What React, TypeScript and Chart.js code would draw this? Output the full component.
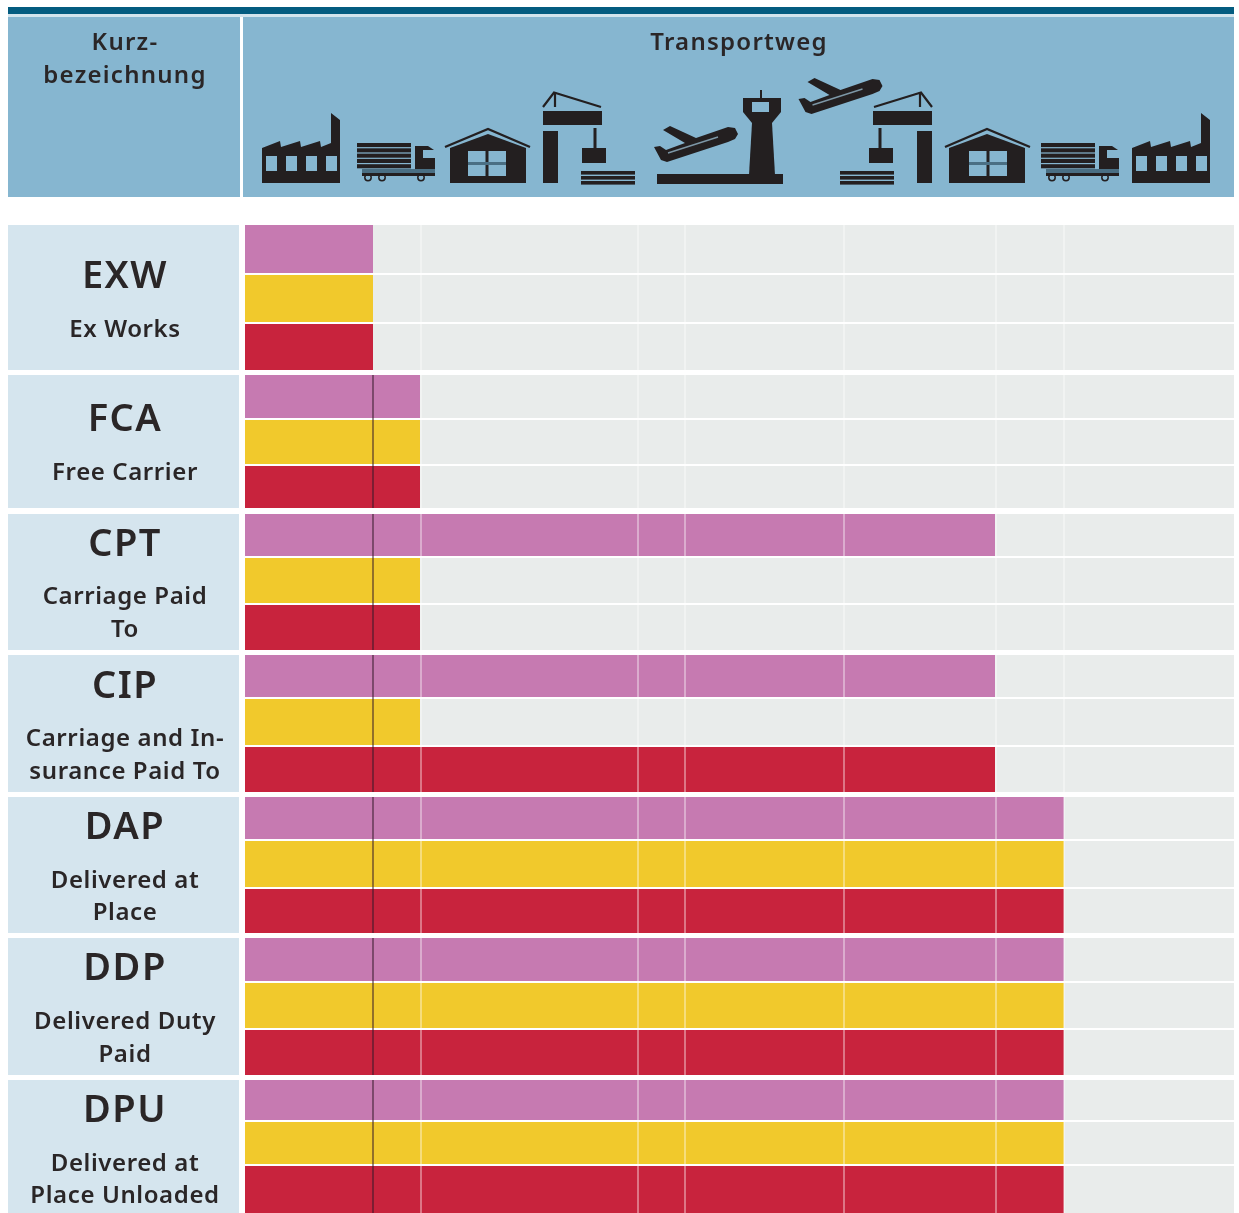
import React, { useEffect, useRef } from "react";
import { Chart, registerables } from "chart.js";

Chart.register(...registerables);

// ---------- data ----------
const terms = ["EXW", "FCA", "CPT", "CIP", "DAP", "DDP", "DPU"];
const termNames = [
  ["Ex Works"],
  ["Free Carrier"],
  ["Carriage Paid", "To"],
  ["Carriage and In-", "surance Paid To"],
  ["Delivered at", "Place"],
  ["Delivered Duty", "Paid"],
  ["Delivered at", "Place Unloaded"],
];
// how far along the transport route each band of each term reaches
const purpleReach = [128, 175, 750, 750, 819, 819, 819];
const yellowReach = [128, 175, 175, 175, 819, 819, 819];
const redReach = [128, 175, 175, 750, 819, 819, 819];
// stages of the route (where the separators sit)
const routeStages = [128, 176, 393, 440, 599, 751, 819];
const routeLength = 989;

// ---------- layout (row edges in y-axis units, and styles) ----------
const rowEdges = [
  [0, 48, 50, 97, 99, 145],
  [150, 193, 195, 239, 241, 283],
  [289, 331, 333, 378, 380, 425],
  [430, 472, 474, 520, 522, 567],
  [572, 614, 616, 662, 664, 708],
  [713, 756, 758, 803, 805, 850],
  [855, 895, 897, 939, 941, 988],
];
const bandColors = ["#C67AB1", "#F1C92C", "#C8233D"];
const INK = "#2a2627";
const ICON = "#231F20";
const HEAD = "#86B6D0";
const FONT = '"Noto Sans"';
const nameBaselines = [
  [288, [337]],
  [431, [480]],
  [556, [604, 637]],
  [698, [746, 779]],
  [839, [888, 920]],
  [980, [1029, 1062]],
  [1122, [1171, 1203]],
] as [number, number[]][];

const bandCenter = (term: number, band: number) =>
  (rowEdges[term][band * 2] + rowEdges[term][band * 2 + 1]) / 2;

const toPoints = (reach: number[], band: number) =>
  reach.map((x, term) => ({ x, y: bandCenter(term, band) }));

// ---------- icons ----------
function poly(ctx: CanvasRenderingContext2D, pts: number[][], fill = ICON) {
  ctx.fillStyle = fill;
  ctx.beginPath();
  pts.forEach(([x, y], i) => (i ? ctx.lineTo(x, y) : ctx.moveTo(x, y)));
  ctx.closePath();
  ctx.fill();
}
function line(ctx: CanvasRenderingContext2D, pts: number[][], w: number, color = ICON) {
  ctx.strokeStyle = color;
  ctx.lineWidth = w;
  ctx.beginPath();
  pts.forEach(([x, y], i) => (i ? ctx.lineTo(x, y) : ctx.moveTo(x, y)));
  ctx.stroke();
}
function rect(ctx: CanvasRenderingContext2D, x0: number, y0: number, x1: number, y1: number, fill = ICON) {
  ctx.fillStyle = fill;
  ctx.fillRect(x0, y0, x1 - x0, y1 - y0);
}
function factory(ctx: CanvasRenderingContext2D) {
  poly(ctx, [[262, 148], [280, 141], [281, 147], [300, 141], [301, 147], [320, 141], [321, 147], [331, 143], [331, 113], [340, 120], [340, 183], [262, 183]]);
  [266, 286, 306, 326].forEach((x) => rect(ctx, x, 156, x + 11, 171, HEAD));
}
function truck(ctx: CanvasRenderingContext2D) {
  [143, 148.3, 153.6, 158.9, 164.2].forEach((y) => rect(ctx, 357, y, 411, y + 4.1));
  poly(ctx, [[415, 146], [428, 146], [434, 150], [423, 150], [423, 158], [435, 158], [435, 169], [415, 169]]);
  rect(ctx, 362, 169, 435, 173, "#4A6F84");
  rect(ctx, 362, 173, 435, 176);
  [368, 382, 421].forEach((x) => {
    ctx.strokeStyle = ICON;
    ctx.lineWidth = 1.5;
    ctx.beginPath();
    ctx.arc(x, 177.5, 3.2, 0, Math.PI * 2);
    ctx.stroke();
  });
}
function warehouse(ctx: CanvasRenderingContext2D) {
  line(ctx, [[445, 147], [488, 129], [530, 147]], 2.4);
  poly(ctx, [[450, 148], [488, 134], [526, 148], [526, 183], [450, 183]]);
  rect(ctx, 468, 151, 506, 176, HEAD);
  rect(ctx, 485.5, 151, 488.5, 176);
  rect(ctx, 468, 162, 506, 165, "#4A6F84");
}
function crane(ctx: CanvasRenderingContext2D) {
  rect(ctx, 543, 131, 558, 183);
  rect(ctx, 543, 111, 602, 125);
  line(ctx, [[543, 107], [554, 92.5], [601, 107]], 2.2);
  line(ctx, [[555, 92], [555, 107]], 2.2);
  line(ctx, [[595, 128], [595, 148]], 3);
  rect(ctx, 582, 148, 606, 163);
  [171, 176, 181].forEach((y) => rect(ctx, 581, y, 635, y + 3.6));
}
function plane(ctx: CanvasRenderingContext2D) {
  poly(ctx, [[654, 147], [660, 146], [666, 150], [685, 143], [663, 130], [670, 126], [696, 138], [728, 127], [735, 128], [738, 134], [735, 139], [728, 142], [667, 162], [661, 160]]);
  line(ctx, [[668, 153], [718, 137]], 1.4, "#7D97A6");
}
function tower(ctx: CanvasRenderingContext2D) {
  rect(ctx, 657, 174, 783, 184);
  poly(ctx, [[749, 175], [752, 123], [772, 123], [775, 175]]);
  poly(ctx, [[743, 98], [781, 98], [781, 112], [772, 123], [752, 123], [743, 112]]);
  rect(ctx, 752, 102, 769, 112, HEAD);
  line(ctx, [[761, 90], [761, 98]], 2);
}
function drawIcons(ctx: CanvasRenderingContext2D) {
  const at = (dx: number, dy: number, draw: (c: CanvasRenderingContext2D) => void) => {
    ctx.save();
    ctx.translate(dx, dy);
    draw(ctx);
    ctx.restore();
  };
  factory(ctx);
  truck(ctx);
  warehouse(ctx);
  crane(ctx);
  plane(ctx);
  tower(ctx);
  at(144.5, -48, plane);
  ctx.save();
  ctx.translate(1475, 0);
  ctx.scale(-1, 1);
  crane(ctx);
  warehouse(ctx);
  ctx.restore();
  at(684, 0, truck);
  at(870, 0, factory);
}

// ---------- plugin drawing the table around the bars ----------
const tablePlugin = {
  id: "incotermTable",
  beforeDraw(chart: any) {
    const ctx: any = chart.ctx;
    const y = chart.scales.y;
    ctx.save();
    rect(ctx, 8, 7, 1234, 14, "#045C80");
    rect(ctx, 8, 14, 1234, 17, "#D3E4ED");
    rect(ctx, 8, 17, 240, 197, HEAD);
    rect(ctx, 243, 17, 1234, 197, HEAD);
    rowEdges.forEach((edges) => {
      const top = y.getPixelForValue(edges[0]);
      const bottom = y.getPixelForValue(edges[5]);
      rect(ctx, 8, top, 239, bottom, "#D5E5EE");
    });
    ctx.fillStyle = INK;
    ctx.textAlign = "center";
    ctx.textBaseline = "alphabetic";
    ctx.font = `600 24px ${FONT}`;
    ctx.letterSpacing = "1.25px";
    ctx.fillText("Kurz-", 125, 50);
    ctx.fillText("bezeichnung", 125, 83);
    ctx.fillText("Transportweg", 739, 50);
    terms.forEach((term, i) => {
      const [titleY, nameYs] = nameBaselines[i];
      ctx.font = `600 38px ${FONT}`;
      ctx.letterSpacing = "1.5px";
      ctx.fillText(term, 125, titleY);
      ctx.font = `600 24px ${FONT}`;
      ctx.letterSpacing = "0.6px";
      termNames[i].forEach((text, k) => ctx.fillText(text, 125, nameYs[k]));
    });
    ctx.letterSpacing = "0px";
    drawIcons(ctx);
    ctx.restore();
  },
  afterDatasetsUpdate(chart: any) {
    // each band fills its own row edges on the y axis
    const y = chart.scales.y;
    chart.data.datasets.forEach((_: any, band: number) => {
      chart.getDatasetMeta(band).data.forEach((bar: any, term: number) => {
        const edges = rowEdges[term];
        bar.height = y.getPixelForValue(edges[band * 2 + 1]) - y.getPixelForValue(edges[band * 2]);
      });
    });
  },
  beforeDatasetsDraw(chart: any) {
    const ctx: CanvasRenderingContext2D = chart.ctx;
    const { x, y } = chart.scales;
    ctx.save();
    rowEdges.forEach((edges) => {
      for (let k = 0; k < 6; k += 2) {
        const top = y.getPixelForValue(edges[k]);
        rect(ctx, x.getPixelForValue(0), top, x.getPixelForValue(routeLength), y.getPixelForValue(edges[k + 1]), "#E9ECEB");
      }
    });
    ctx.restore();
  },
  afterDraw(chart: any) {
    const ctx: CanvasRenderingContext2D = chart.ctx;
    const { x, y } = chart.scales;
    ctx.save();
    const px = x.getPixelForValue(routeStages[0]);
    rowEdges.slice(1).forEach((edges) => {
      line(ctx, [[px, y.getPixelForValue(edges[0])], [px, y.getPixelForValue(edges[5])]], 1.4, "rgba(50,25,40,0.72)");
    });
    ctx.restore();
  },
};

export default function App() {
  const ref = useRef<HTMLCanvasElement>(null);
  useEffect(() => {
    const chart = new Chart(ref.current!, {
      type: "bar",
      data: {
        labels: terms,
        datasets: [purpleReach, yellowReach, redReach].map((reach, band) => ({
          label: `Band ${band + 1}`,
          data: toPoints(reach, band) as any,
          backgroundColor: bandColors[band],
          borderWidth: 0,
          grouped: false,
        })),
      },
      options: {
        indexAxis: "y",
        responsive: false,
        animation: false,
        layout: { padding: { left: 245, right: 5, top: 225, bottom: 0 } },
        plugins: { legend: { display: false }, tooltip: { enabled: false }, title: { display: false } },
        scales: {
          x: {
            type: "linear",
            position: "bottom",
            min: 0,
            max: routeLength,
            afterBuildTicks: (axis: any) => {
              axis.ticks = routeStages.map((value) => ({ value }));
            },
            ticks: { display: false },
            border: { display: false },
            grid: {
              z: 1,
              drawTicks: false,
              lineWidth: 2,
              color: (c: any) =>
                c.tick && c.tick.value === routeStages[0] ? "rgba(255,255,255,0)" : "rgba(255,255,255,0.38)",
            },
          },
          y: { type: "linear", reverse: true, min: 0, max: 988, display: false, offset: false },
        },
      } as any,
      plugins: [tablePlugin],
    });
    return () => chart.destroy();
  }, []);
  return (
    <div style={{ position: "absolute", left: 0, top: 0, width: 1239, height: 1213, overflow: "hidden", background: "#fff" }}>
      <canvas ref={ref} width={1239} height={1213} style={{ display: "block", filter: "blur(0.6px)" }} />
    </div>
  );
}
